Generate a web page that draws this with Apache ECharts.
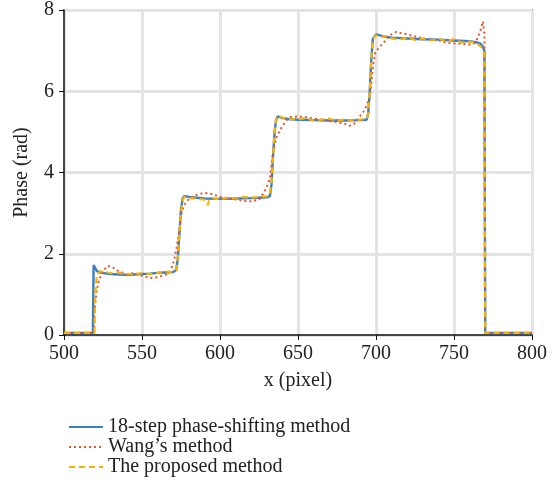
<!DOCTYPE html>
<html>
<head>
<meta charset="utf-8">
<script src="https://cdn.jsdelivr.net/npm/echarts@6/dist/echarts.min.js"></script>
<style>
  html, body { margin: 0; padding: 0; background: #fff; }
  #chart { width: 555px; height: 489px; }
</style>
</head>
<body>
<div id="chart"></div>
<script>
// 18-step phase-shifting method
var blueX = [500, 518.5, 519, 520, 521, 523, 526, 530, 535, 540, 545, 550, 555, 560, 565, 570, 572, 573, 574, 575, 576, 577, 580, 585, 590, 600, 610, 620, 625, 630, 632, 633, 634, 635, 636, 637, 640, 645, 650, 660, 670, 680, 690, 694, 695, 696, 697, 698, 700, 705, 710, 720, 730, 740, 750, 760, 765, 767, 768.5, 769.5, 770, 780, 800];
var blueY = [0.05, 0.05, 1.72, 1.65, 1.58, 1.54, 1.52, 1.5, 1.49, 1.48, 1.49, 1.5, 1.51, 1.53, 1.54, 1.55, 1.6, 1.9, 2.5, 3.1, 3.35, 3.42, 3.4, 3.38, 3.36, 3.35, 3.36, 3.37, 3.38, 3.39, 3.42, 3.7, 4.4, 5.0, 5.3, 5.38, 5.34, 5.31, 5.3, 5.29, 5.28, 5.28, 5.29, 5.3, 5.45, 6.0, 6.8, 7.3, 7.4, 7.35, 7.32, 7.3, 7.28, 7.27, 7.25, 7.23, 7.2, 7.17, 7.1, 7.0, 0.05, 0.05, 0.05];

// Wang's method
var wangX = [500, 519, 519.5, 520, 521, 522, 524, 526, 528, 531, 535, 540, 545, 550, 555, 560, 565, 568, 570, 572, 574, 575, 577, 580, 585, 590, 595, 600, 605, 610, 615, 620, 625, 628, 630, 632, 634, 636, 638, 640, 643, 645, 650, 655, 660, 665, 670, 675, 680, 683, 686, 689, 692, 694, 696, 698, 699.5, 702, 705, 709, 713, 716, 720, 725, 730, 735, 740, 745, 750, 755, 760, 763, 765, 767, 768.5, 769.5, 770, 780, 800];
var wangY = [0.05, 0.05, 0.4, 0.8, 1.1, 1.3, 1.5, 1.62, 1.7, 1.67, 1.57, 1.5, 1.52, 1.46, 1.4, 1.42, 1.48, 1.56, 1.75, 2.1, 2.6, 2.95, 3.2, 3.35, 3.45, 3.5, 3.47, 3.4, 3.36, 3.34, 3.3, 3.29, 3.33, 3.5, 3.65, 3.85, 4.5, 4.85, 5.0, 5.15, 5.3, 5.36, 5.38, 5.36, 5.33, 5.3, 5.27, 5.24, 5.2, 5.15, 5.2, 5.35, 5.5, 5.65, 5.85, 6.6, 6.95, 7.08, 7.2, 7.38, 7.46, 7.43, 7.4, 7.35, 7.3, 7.27, 7.25, 7.2, 7.18, 7.17, 7.15, 7.18, 7.3, 7.5, 7.72, 7.4, 0.05, 0.05, 0.05];

// The proposed method
var propX = [500, 519.5, 520, 521, 523, 526, 530, 535, 540, 545, 550, 555, 560, 565, 570, 572, 573, 574, 575, 576, 577, 580, 585, 590, 592, 593, 595, 600, 605, 610, 615, 620, 625, 630, 632, 633, 634, 635, 636, 637, 640, 645, 650, 655, 660, 665, 670, 675, 680, 685, 690, 694, 695, 696, 697, 698, 700, 703, 706, 710, 715, 720, 725, 730, 735, 740, 745, 750, 755, 760, 765, 767, 768.5, 769.5, 770, 780, 800];
var propY = [0.05, 0.05, 1.0, 1.45, 1.57, 1.55, 1.52, 1.53, 1.5, 1.5, 1.52, 1.5, 1.53, 1.56, 1.55, 1.6, 1.95, 2.5, 3.05, 3.3, 3.4, 3.37, 3.36, 3.33, 3.2, 3.3, 3.37, 3.34, 3.38, 3.36, 3.4, 3.38, 3.4, 3.41, 3.45, 3.75, 4.4, 5.0, 5.3, 5.4, 5.35, 5.32, 5.3, 5.34, 5.28, 5.3, 5.33, 5.27, 5.31, 5.28, 5.3, 5.32, 5.45, 6.0, 6.8, 7.3, 7.38, 7.33, 7.36, 7.3, 7.27, 7.32, 7.26, 7.3, 7.25, 7.29, 7.24, 7.28, 7.2, 7.22, 7.18, 7.1, 7.05, 6.9, 0.05, 0.05, 0.05];

var seriesNames = ['18-step phase-shifting method', "Wang\u2019s method", 'The proposed method'];

function pairs(xs, ys) {
    return xs.map(function (x, i) { return [x, ys[i]]; });
}

var font = 'Liberation Serif';
var chart = echarts.init(document.getElementById('chart'));
chart.setOption({
    animation: false,
    backgroundColor: '#fff',
    textStyle: { fontFamily: font },
    grid: {
        left: 64, right: 23, top: 7, bottom: 154,
        show: true, borderColor: '#333', borderWidth: 1.5
    },
    legend: {
        orient: 'vertical',
        left: 63, top: 412, height: 75,
        itemWidth: 34, itemHeight: 14, itemGap: 0,
        itemStyle: { opacity: 0 },
        textStyle: { fontFamily: font, fontSize: 20, lineHeight: 19, color: '#222' },
        data: seriesNames
    },
    xAxis: {
        type: 'value', min: 500, max: 800, interval: 50,
        name: 'x (pixel)', nameLocation: 'middle', nameGap: 36,
        nameTextStyle: { fontFamily: font, fontSize: 20, color: '#222' },
        axisLine: { lineStyle: { color: '#111', width: 1.5 } },
        axisTick: { show: true, length: 5, lineStyle: { color: '#111' } },
        axisLabel: { fontFamily: font, fontSize: 20, color: '#222', margin: 9 },
        splitLine: { show: true, lineStyle: { color: '#e4e4e4', width: 3 } }
    },
    yAxis: {
        type: 'value', min: 0, max: 8, interval: 2,
        name: 'Phase (rad)', nameLocation: 'middle', nameGap: 32,
        nameTextStyle: { fontFamily: font, fontSize: 20, color: '#222' },
        axisLine: { show: true, lineStyle: { color: '#111', width: 1.5 } },
        axisTick: { show: true, length: 5, lineStyle: { color: '#111' } },
        axisLabel: { fontFamily: font, fontSize: 20, color: '#222', margin: 10 },
        splitLine: { show: true, lineStyle: { color: '#e4e4e4', width: 3 } }
    },
    series: [
        {
            name: seriesNames[0], type: 'line', symbol: 'none',
            data: pairs(blueX, blueY),
            lineStyle: { color: '#3a7fc4', width: 2.4 },
            itemStyle: { color: '#3a7fc4' }
        },
        {
            name: seriesNames[1], type: 'line', symbol: 'none',
            data: pairs(wangX, wangY),
            lineStyle: { color: '#e8552a', width: 2, type: [2, 3] },
            itemStyle: { color: '#e8552a' }
        },
        {
            name: seriesNames[2], type: 'line', symbol: 'none',
            data: pairs(propX, propY),
            lineStyle: { color: '#f6b400', width: 2.2, type: [6, 4] },
            itemStyle: { color: '#f6b400' }
        }
    ]
});
</script>
</body>
</html>
